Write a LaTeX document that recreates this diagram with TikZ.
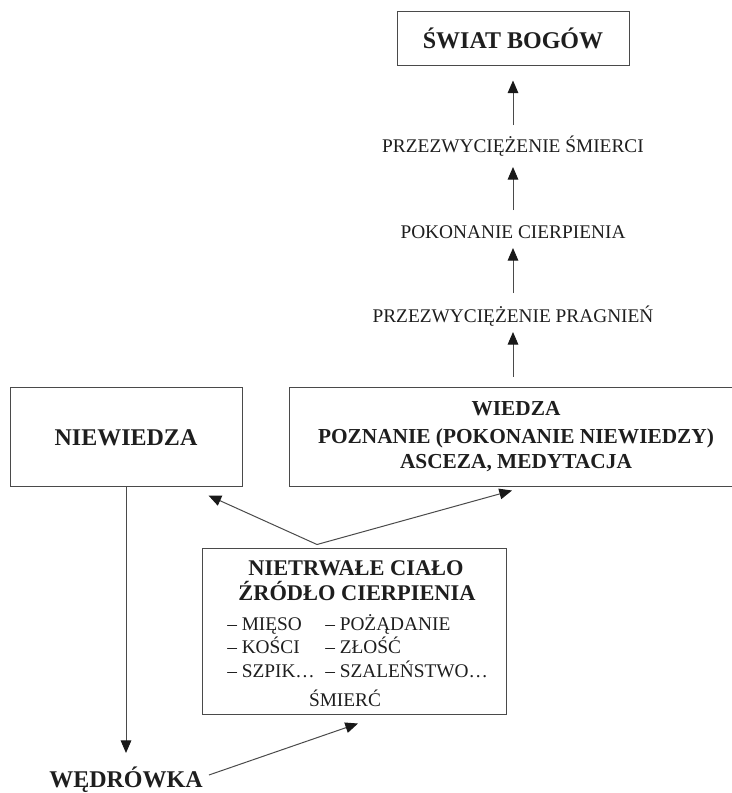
\documentclass[tikz,border=0pt]{standalone}
\usepackage{fontspec}
\setmainfont{Liberation Serif}
\usetikzlibrary{arrows.meta,calc}
\definecolor{ink}{HTML}{1E1E1E}
\definecolor{ln}{HTML}{4A4A4A}
\tikzset{
  box/.style={draw=ln, line width=0.75pt, inner sep=0pt, text=ink},
  reg/.style={font=\fontsize{14.5}{17}\selectfont, text=ink, inner sep=0pt},
  bigb/.style={font=\fontsize{18}{21}\selectfont\bfseries, text=ink, inner sep=0pt},
  midb/.style={font=\fontsize{16}{19}\selectfont\bfseries, text=ink, inner sep=0pt},
  titb/.style={font=\fontsize{16.8}{19}\selectfont\bfseries, text=ink, inner sep=0pt},
  arr/.style={draw=ln, line width=0.75pt, -{Triangle[width=8pt,length=9.5pt,color=black!90]}},
}
\begin{document}
\begin{tikzpicture}[x=0.75pt,y=-0.75pt]
\useasboundingbox (0,0) rectangle (732,793);

% top box
\node[box, minimum width=174pt, minimum height=40.5pt] (swiat) at (513,38) {};
\node[bigb, anchor=base] (swiatt) at (513,48) {ŚWIAT BOGÓW};

% ladder texts
\node[reg, anchor=base] (t1) at (513,152) {PRZEZWYCIĘŻENIE ŚMIERCI};
\node[reg, anchor=base] (t2) at (513,238) {POKONANIE CIERPIENIA};
\node[reg, anchor=base] (t3) at (513,322) {PRZEZWYCIĘŻENIE PRAGNIEŃ};

% middle boxes
\node[box, minimum width=174pt, minimum height=74.25pt] (niew) at (126,436.5) {};
\node[bigb, anchor=base] (niewt) at (126,445) {NIEWIEDZA};

\node[box, minimum width=340.5pt, minimum height=74.25pt] (wiedza) at (516,436.5) {};
\node[midb, anchor=base] (w1) at (516,415) {WIEDZA};
\node[midb, anchor=base] (w2) at (516,443) {POZNANIE (POKONANIE NIEWIEDZY)};
\node[midb, anchor=base] (w3) at (516,468) {ASCEZA, MEDYTACJA};

% body box
\node[box, minimum width=228pt, minimum height=124.5pt] (cialo) at (354,631) {};
\node[titb, anchor=base] (c1) at (356,575) {NIETRWAŁE CIAŁO};
\node[titb, anchor=base] (c2) at (357,600) {ŹRÓDŁO CIERPIENIA};
\node[reg, anchor=base west] (l1) at (227,630) {– MIĘSO};
\node[reg, anchor=base west] (l2) at (227,653) {– KOŚCI};
\node[reg, anchor=base west] (l3) at (227,677) {– SZPIK…};
\node[reg, anchor=base west] (r1) at (325,630) {– POŻĄDANIE};
\node[reg, anchor=base west] (r2) at (325,653) {– ZŁOŚĆ};
\node[reg, anchor=base west] (r3) at (325,677) {– SZALEŃSTWO…};
\node[reg, anchor=base] (smierc) at (345,706) {ŚMIERĆ};

% bottom label
\node[bigb, anchor=base] (wed) at (126,787) {WĘDRÓWKA};

% vertical ladder arrows
\draw[arr] ($(wiedza.north -| t3.base)+(0,-10)$) -- ($(t3.base)+(0,10)$);
\draw[arr] ($(t3.base)+(0,-29)$) -- ($(t2.base)+(0,10)$);
\draw[arr] ($(t2.base)+(0,-28)$) -- ($(t1.base)+(0,15)$);
\draw[arr] ($(t1.base)+(0,-27)$) -- ($(swiat.south)+(0,15)$);

% apex and branches
\coordinate (apex) at ($(cialo.north)+(-37,-3)$);
\coordinate (niewin) at ($(niew.south east)+(-34,9)$);
\coordinate (wiedzain) at ($(wiedza.south)+(-4,4)$);
\draw[arr] (apex) -- (niewin);
\draw[arr] (apex) -- (wiedzain);

% wandering
\draw[arr] (niew.south) -- ($(wed.base)+(0,-34)$);
\coordinate (wedout) at ($(wed.base east)+(6,-12)$);
\coordinate (cialoin) at ($(cialo.south)+(4,9)$);
\draw[arr] (wedout) -- (cialoin);
\end{tikzpicture}
\end{document}
